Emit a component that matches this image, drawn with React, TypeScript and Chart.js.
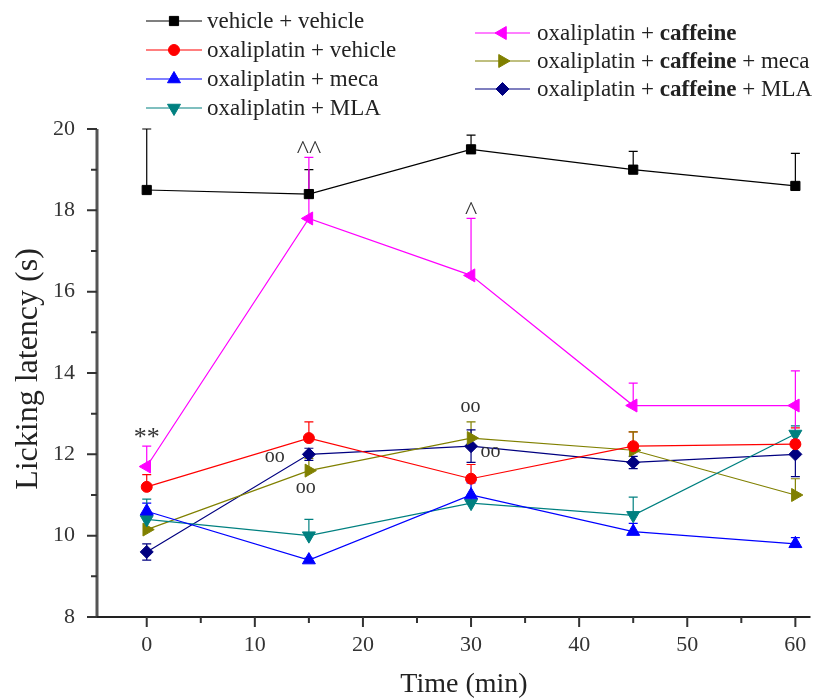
import React, { useEffect, useRef } from 'react';
import { Chart, registerables } from 'chart.js';

Chart.register(...registerables);

const timePoints = [0, 15, 30, 45, 60];
const xTickValues = [0, 10, 20, 30, 40, 50, 60];
const xMinorTicks = [5, 15, 25, 35, 45, 55];
const yTickValues = [8, 10, 12, 14, 16, 18, 20];
const yMinorTicks = [9, 11, 13, 15, 17, 19];

const vehVeh = [18.5, 18.4, 19.5, 19.0, 18.6];
const vehVehUp = [1.5, 0.6, 0.35, 0.45, 0.8];
const oxVeh = [11.2, 12.4, 11.4, 12.2, 12.25];
const oxVehUp = [0.3, 0.4, 0.35, 0.35, 0.4];
const oxMeca = [10.6, 9.4, 11.0, 10.1, 9.8];
const oxMecaUp = [0.2, 0.05, 0.3, 0.2, 0.15];
const oxMla = [10.4, 10.0, 10.8, 10.5, 12.5];
const oxMlaUp = [0.5, 0.4, 0.2, 0.45, 0.2];
const oxCaf = [11.7, 17.8, 16.4, 13.2, 13.2];
const oxCafUp = [0.5, 1.5, 1.4, 0.55, 0.85];
const oxCafDown = [0, 0, 0, 0, 0.85];
const oxCafMeca = [10.15, 11.6, 12.4, 12.1, 11.0];
const oxCafMecaUp = [0.35, 0.3, 0.4, 0.45, 0.4];
const oxCafMla = [9.6, 12.0, 12.2, 11.8, 12.0];
const oxCafMlaErr = [0.2, 0.15, 0.4, 0.15, 0.55];

const annotations = [
  { text: '**', x: 0, y: 12.4, size: 26 },
  { text: '^^', x: 15, y: 19.45, size: 26 },
  { text: '^', x: 30, y: 17.95, size: 26 },
  { text: 'oo', x: 11.85, y: 11.93, size: 20 },
  { text: 'oo', x: 14.7, y: 11.17, size: 20 },
  { text: 'oo', x: 29.95, y: 13.17, size: 20 },
  { text: 'oo', x: 31.8, y: 12.07, size: 20 },
];

const FONT = '"Liberation Serif", "Times New Roman", serif';

type Ser = {
  label: string[];
  values: number[];
  up: number[];
  down: number[];
  color: string;
  style: string;
  rotation: number;
  radius: number;
};

const zeros = [0, 0, 0, 0, 0];

const series: Ser[] = [
  { label: ['vehicle + vehicle'], values: vehVeh, up: vehVehUp, down: zeros, color: '#000000', style: 'rect', rotation: 0, radius: 6.5 },
  { label: ['oxaliplatin + vehicle'], values: oxVeh, up: oxVehUp, down: zeros, color: '#ff0000', style: 'circle', rotation: 0, radius: 5.5 },
  { label: ['oxaliplatin + meca'], values: oxMeca, up: oxMecaUp, down: zeros, color: '#0000ff', style: 'triangle', rotation: 0, radius: 7.5 },
  { label: ['oxaliplatin + MLA'], values: oxMla, up: oxMlaUp, down: zeros, color: '#008080', style: 'triangle', rotation: 180, radius: 7.5 },
  { label: ['oxaliplatin + ', 'caffeine'], values: oxCaf, up: oxCafUp, down: oxCafDown, color: '#ff00ff', style: 'triangle', rotation: -90, radius: 7.5 },
  { label: ['oxaliplatin + ', 'caffeine', ' + meca'], values: oxCafMeca, up: oxCafMecaUp, down: zeros, color: '#808000', style: 'triangle', rotation: 90, radius: 7.5 },
  { label: ['oxaliplatin + ', 'caffeine', ' + MLA'], values: oxCafMla, up: oxCafMlaErr, down: oxCafMlaErr, color: '#000080', style: 'rectRot', rotation: 0, radius: 6.5 },
];

const legendRows = [
  { col: 0, y: 21 },
  { col: 0, y: 50 },
  { col: 0, y: 79 },
  { col: 0, y: 108 },
  { col: 1, y: 33 },
  { col: 1, y: 61 },
  { col: 1, y: 89 },
];
const legendCols = [
  { lineStart: 146, lineEnd: 202, text: 207 },
  { lineStart: 475, lineEnd: 530, text: 537 },
];

function drawMarker(ctx: CanvasRenderingContext2D, style: string, rotation: number, r: number, x: number, y: number) {
  ctx.save();
  ctx.translate(x, y);
  ctx.rotate((rotation * Math.PI) / 180);
  ctx.beginPath();
  if (style === 'circle') {
    ctx.arc(0, 0, r, 0, Math.PI * 2);
  } else if (style === 'rect') {
    const s = r * Math.SQRT1_2;
    ctx.rect(-s, -s, 2 * s, 2 * s);
  } else if (style === 'rectRot') {
    ctx.moveTo(0, -r);
    ctx.lineTo(r, 0);
    ctx.lineTo(0, r);
    ctx.lineTo(-r, 0);
    ctx.closePath();
  } else {
    ctx.moveTo(0, -r);
    ctx.lineTo(r * 0.866, r * 0.5);
    ctx.lineTo(-r * 0.866, r * 0.5);
    ctx.closePath();
  }
  ctx.fill();
  ctx.stroke();
  ctx.restore();
}

const decorPlugin = {
  id: 'decor',
  beforeDatasetsDraw(chart: any) {
    const ctx = chart.ctx;
    const ys = chart.scales.y;
    ctx.save();
    series.forEach((s, i) => {
      const meta = chart.getDatasetMeta(i);
      meta.data.forEach((pt: any, j: number) => {
        const v = s.values[j];
        const top = ys.getPixelForValue(v + s.up[j]);
        const bot = ys.getPixelForValue(v - s.down[j]);
        ctx.strokeStyle = s.color;
        ctx.lineWidth = 1.2;
        ctx.beginPath();
        ctx.moveTo(pt.x, top);
        ctx.lineTo(pt.x, bot);
        if (s.up[j] > 0) {
          ctx.moveTo(pt.x - 4.5, top);
          ctx.lineTo(pt.x + 4.5, top);
        }
        if (s.down[j] > 0) {
          ctx.moveTo(pt.x - 4.5, bot);
          ctx.lineTo(pt.x + 4.5, bot);
        }
        ctx.stroke();
      });
    });
    ctx.restore();
  },
  afterDraw(chart: any) {
    const ctx = chart.ctx;
    const xs = chart.scales.x;
    const ys = chart.scales.y;
    const area = chart.chartArea;
    ctx.save();
    ctx.strokeStyle = '#555555';
    ctx.lineWidth = 3;
    ctx.beginPath();
    ctx.moveTo(area.left, area.top);
    ctx.lineTo(area.left, area.bottom);
    ctx.stroke();
    ctx.strokeStyle = '#222222';
    ctx.lineWidth = 2;
    ctx.beginPath();
    ctx.moveTo(area.left - 1, area.bottom);
    ctx.lineTo(area.right, area.bottom);
    ctx.stroke();
    ctx.strokeStyle = '#333333';
    ctx.lineWidth = 2;
    ctx.beginPath();
    xTickValues.forEach((v) => {
      const px = xs.getPixelForValue(v);
      ctx.moveTo(px, area.bottom);
      ctx.lineTo(px, area.bottom + 10);
    });
    xMinorTicks.forEach((v) => {
      const px = xs.getPixelForValue(v);
      ctx.moveTo(px, area.bottom);
      ctx.lineTo(px, area.bottom + 6);
    });
    yTickValues.forEach((v) => {
      const py = ys.getPixelForValue(v);
      ctx.moveTo(area.left, py);
      ctx.lineTo(area.left - 10, py);
    });
    yMinorTicks.forEach((v) => {
      const py = ys.getPixelForValue(v);
      ctx.moveTo(area.left, py);
      ctx.lineTo(area.left - 6, py);
    });
    ctx.stroke();
    ctx.fillStyle = '#222222';
    ctx.textAlign = 'center';
    ctx.textBaseline = 'middle';
    ctx.font = `28px ${FONT}`;
    ctx.fillText('Time (min)', 464, 685);
    ctx.save();
    ctx.translate(29, 369);
    ctx.rotate(-Math.PI / 2);
    ctx.font = `32px ${FONT}`;
    ctx.fillText('Licking latency (s)', 0, 0);
    ctx.restore();
    annotations.forEach((a) => {
      ctx.font = `${a.size}px ${FONT}`;
      ctx.fillStyle = '#333333';
      ctx.textAlign = 'center';
      ctx.fillText(a.text, xs.getPixelForValue(a.x), ys.getPixelForValue(a.y));
    });
    series.forEach((s, i) => {
      const row = legendRows[i];
      const col = legendCols[row.col];
      ctx.strokeStyle = s.color;
      ctx.lineWidth = 1.2;
      ctx.beginPath();
      ctx.moveTo(col.lineStart, row.y);
      ctx.lineTo(col.lineEnd, row.y);
      ctx.stroke();
      ctx.fillStyle = s.color;
      ctx.lineWidth = 1;
      drawMarker(ctx, s.style, s.rotation, s.radius, (col.lineStart + col.lineEnd) / 2, row.y);
      let x = col.text;
      ctx.textAlign = 'left';
      ctx.textBaseline = 'middle';
      ctx.fillStyle = '#222222';
      s.label.forEach((part, k) => {
        ctx.font = `${k === 1 ? 'bold ' : ''}23px ${FONT}`;
        ctx.fillText(part, x, row.y + 1);
        x += ctx.measureText(part).width;
      });
    });
    ctx.restore();
  },
};

export default function App() {
  const ref = useRef<HTMLCanvasElement | null>(null);
  useEffect(() => {
    document.body.style.margin = '0';
    const canvas = ref.current;
    if (!canvas) return;
    const chart = new Chart(canvas, {
      type: 'line',
      data: {
        datasets: series.map((s) => ({
          label: s.label.join(''),
          data: timePoints.map((t, j) => ({ x: t, y: s.values[j] })),
          borderColor: s.color,
          backgroundColor: s.color,
          borderWidth: 1.2,
          pointStyle: s.style as any,
          pointRotation: s.rotation,
          pointRadius: s.radius,
          pointBorderWidth: 1,
          tension: 0,
        })),
      },
      options: {
        animation: false,
        responsive: false,
        devicePixelRatio: 1,
        layout: { padding: { top: 129, right: 0, left: 0, bottom: 0 } },
        plugins: { legend: { display: false }, tooltip: { enabled: false } },
        scales: {
          x: {
            type: 'linear',
            min: -4.6,
            max: 61.4,
            afterBuildTicks: (axis: any) => {
              axis.ticks = xTickValues.map((v) => ({ value: v }));
            },
            afterFit: (scale: any) => {
              scale.height = 83;
            },
            grid: { display: true, drawOnChartArea: false, drawTicks: true, tickLength: 10, color: 'rgba(0,0,0,0)' },
            border: { display: false },
            ticks: { font: { family: FONT, size: 22 }, color: '#333333', padding: 5, maxRotation: 0, autoSkip: false, callback: (v: any) => String(v) },
          },
          y: {
            type: 'linear',
            min: 8,
            max: 20,
            afterBuildTicks: (axis: any) => {
              axis.ticks = yTickValues.map((v) => ({ value: v }));
            },
            afterFit: (scale: any) => {
              scale.width = 97;
            },
            grid: { display: true, drawOnChartArea: false, drawTicks: true, tickLength: 10, color: 'rgba(0,0,0,0)' },
            border: { display: false },
            ticks: { font: { family: FONT, size: 22 }, color: '#333333', padding: 12, autoSkip: false, callback: (v: any) => String(v) },
          },
        },
      },
      plugins: [decorPlugin],
    });
    return () => chart.destroy();
  }, []);
  return (
    <div style={{ width: 819, height: 700 }}>
      <canvas ref={ref} width={819} height={700} style={{ display: 'block' }} />
    </div>
  );
}
